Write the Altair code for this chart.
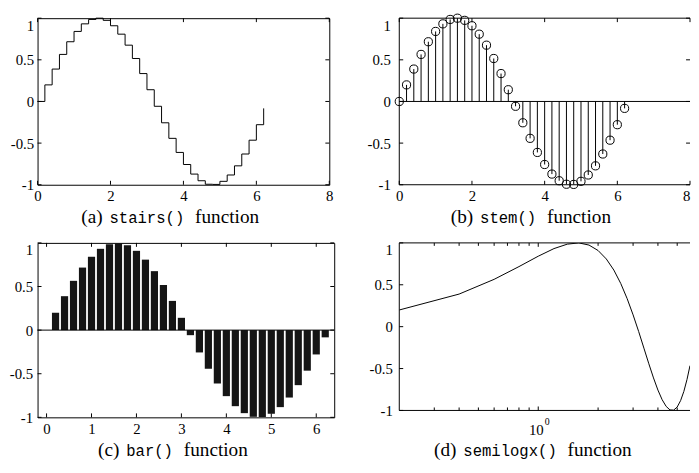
import altair as alt
import pandas as pd

# ---- data ----
X = [0.0, 0.2, 0.4, 0.6, 0.8, 1.0, 1.2, 1.4, 1.6, 1.8, 2.0, 2.2, 2.4, 2.6, 2.8, 3.0,
     3.2, 3.4, 3.6, 3.8, 4.0, 4.2, 4.4, 4.6, 4.8, 5.0, 5.2, 5.4, 5.6, 5.8, 6.0, 6.2]
Y = [0.0, 0.199, 0.389, 0.565, 0.717, 0.841, 0.932, 0.985, 1.000, 0.974, 0.909, 0.808,
     0.676, 0.516, 0.335, 0.141, -0.058, -0.256, -0.443, -0.612, -0.757, -0.872, -0.952,
     -0.994, -0.996, -0.959, -0.883, -0.773, -0.631, -0.465, -0.279, -0.083]

XTICKS_AB = [0, 2, 4, 6, 8]
XTICKS_C = [0, 1, 2, 3, 4, 5, 6]
YTICKS = [-1, -0.5, 0, 0.5, 1]
XTICKS_D_MAJOR = [1]
XTICKS_D_MINOR = [0.3, 0.4, 0.5, 0.6, 0.7, 0.8, 0.9, 2, 3, 4, 5]
XLIM_D = [0.2, 5.8]   # visible part of the semilogx axis (the figure is cropped on the right)

df = pd.DataFrame({"x": X, "y": Y})

SERIF = "Liberation Serif"
MONO = "Liberation Mono"
TL = 4  # tick length (inward)
LBL = 15  # tick label size

YLABEL = "datum.value < 0 ? '-' + format(-datum.value, '~g') : format(datum.value, '~g')"
YBASE = {"condition": {"test": "datum.value == 1", "value": "top"}, "value": "middle"}


def rule(**enc):
    return alt.Chart(pd.DataFrame({"k": [0]})).mark_rule(color="black", strokeWidth=1).encode(**enc)


def frame3(W, H):
    # top, bottom, left edges (right edge is cropped away in the reference)
    return [
        rule(x=alt.value(0), x2=alt.value(W), y=alt.value(0)),
        rule(x=alt.value(0), x2=alt.value(W), y=alt.value(H)),
        rule(x=alt.value(0), y=alt.value(0), y2=alt.value(H)),
    ]


def tick_layers(xs, xax, ys, yax, xvals, yvals, W, H, tl=TL, right=True):
    xd = alt.Chart(pd.DataFrame({"v": xvals})).mark_rule(color="black", strokeWidth=1)
    yd = alt.Chart(pd.DataFrame({"v": yvals})).mark_rule(color="black", strokeWidth=1)
    xe = alt.X("v:Q", scale=xs, axis=xax, title=None)
    ye = alt.Y("v:Q", scale=ys, axis=yax, title=None)
    out = [
        xd.encode(x=xe, y=alt.value(H), y2=alt.value(H - tl)),
        xd.encode(x=xe, y=alt.value(0), y2=alt.value(tl)),
        yd.encode(y=ye, x=alt.value(0), x2=alt.value(tl)),
    ]
    if right:
        out.append(yd.encode(y=ye, x=alt.value(W), x2=alt.value(W - tl)))
    return out


def caption(label, func, H, x_right, dy, mono=15.8, serif=19.5):
    d = alt.Chart(pd.DataFrame({"a": [label], "f": [func], "w": ["function"]}))
    xm = x_right + 7
    xf = xm + len(func) * 0.6 * mono + 11
    y = alt.value(H + dy)
    return [
        d.mark_text(align="right", baseline="alphabetic", font=SERIF, fontSize=serif,
                    color="black").encode(text="a:N", x=alt.value(x_right), y=y),
        d.mark_text(align="left", baseline="alphabetic", font=MONO, fontSize=mono,
                    color="black").encode(text="f:N", x=alt.value(xm), y=y),
        d.mark_text(align="left", baseline="alphabetic", font=SERIF, fontSize=serif,
                    color="black").encode(text="w:N", x=alt.value(xf), y=y),
    ]


def yaxis(pad=4):
    return alt.Axis(values=YTICKS, labelExpr=YLABEL, labelPadding=pad, labelBaseline=YBASE,
                    labelOverlap=False, labelFlush=False)


def xaxis(vals, last_right=None):
    kw = {}
    if last_right is not None:
        kw["labelAlign"] = {"condition": {"test": f"datum.value == {last_right}", "value": "right"},
                            "value": "center"}
    return alt.Axis(values=vals, format="~g", labelPadding=4, labelOverlap=False,
                    labelFlush=False, labelBaseline="top", **kw)


ys = alt.Scale(domain=[-1, 1], nice=False, zero=False)
NOFRAME = alt.ViewBackground(stroke="transparent")

# ---- (a) stairs ----
WA, HA = 296, 169
xs_a = alt.Scale(domain=[0, 8], nice=False, zero=False)
xa_ax, ya_ax = xaxis(XTICKS_AB), yaxis(4)
a_line = alt.Chart(df).mark_line(interpolate="step-after", color="black", strokeWidth=1).encode(
    x=alt.X("x:Q", scale=xs_a, axis=xa_ax, title=None),
    y=alt.Y("y:Q", scale=ys, axis=ya_ax, title=None))
panel_a = alt.layer(a_line, *tick_layers(xs_a, xa_ax, ys, ya_ax, XTICKS_AB, YTICKS, WA, HA),
                    *caption("(a)", "stairs()", HA, 66, 38.4)).properties(width=WA, height=HA)

# ---- (b) stem ----
WB, HB = 295, 169
xs_b = alt.Scale(domain=[0, 8], nice=False, zero=False)
xb_ax, yb_ax = xaxis(XTICKS_AB, last_right=8), yaxis(9)
b_base = alt.Chart(pd.DataFrame({"v": [0]})).mark_rule(color="black", strokeWidth=1).encode(
    y=alt.Y("v:Q", scale=ys, axis=yb_ax, title=None), x=alt.value(0), x2=alt.value(WB))
b_stem = alt.Chart(df).transform_calculate(z="0").mark_rule(color="black", strokeWidth=1).encode(
    x=alt.X("x:Q", scale=xs_b, axis=xb_ax, title=None),
    y=alt.Y("y:Q", scale=ys, axis=yb_ax, title=None), y2="z:Q")
b_pts = alt.Chart(df).mark_point(
    shape="circle", filled=False, color="black", size=69, strokeWidth=1, opacity=1).encode(
    x=alt.X("x:Q", scale=xs_b, axis=xb_ax, title=None),
    y=alt.Y("y:Q", scale=ys, axis=yb_ax, title=None))
panel_b = alt.layer(b_base, b_stem, *frame3(WB, HB), b_pts,
                    *tick_layers(xs_b, xb_ax, ys, yb_ax, XTICKS_AB, YTICKS, WB, HB),
                    *caption("(b)", "stem()", HB, 75, 38.4)).properties(
    width=WB, height=HB, view=NOFRAME)

# ---- (c) bar ----
WC, HC = 301, 177
xs_c = alt.Scale(domain=[-0.2, 6.4], nice=False, zero=False)
xc_ax, yc_ax = xaxis(XTICKS_C), yaxis(5)
c_bars = alt.Chart(df).transform_calculate(
    x0="datum.x - 0.08", x1="datum.x + 0.08", z="0").mark_rect(color="#151515").encode(
    x=alt.X("x0:Q", scale=xs_c, axis=xc_ax, title=None), x2="x1:Q",
    y=alt.Y("y:Q", scale=ys, axis=yc_ax, title=None), y2="z:Q")
c_base = alt.Chart(pd.DataFrame({"v": [0]})).mark_rule(color="black", strokeWidth=1).encode(
    y=alt.Y("v:Q", scale=ys, axis=yc_ax, title=None), x=alt.value(0), x2=alt.value(WC))
panel_c = alt.layer(c_bars, c_base,
                    *tick_layers(xs_c, xc_ax, ys, yc_ax, XTICKS_C, YTICKS, WC, HC),
                    *caption("(c)", "bar()", HC, 83, 39)).properties(width=WC, height=HC)

# ---- (d) semilogx ----
WD, HD = 295, 170
xs_d = alt.Scale(type="log", domain=XLIM_D, nice=False)
xd_ax = alt.Axis(values=XTICKS_D_MAJOR, labels=False)
yd_ax = yaxis(7)
d_line = alt.Chart(df).transform_filter(
    f"datum.x > 0 && datum.x <= {XLIM_D[1]}").mark_line(
    color="black", strokeWidth=1, clip=True).encode(
    x=alt.X("x:Q", scale=xs_d, axis=xd_ax, title=None),
    y=alt.Y("y:Q", scale=ys, axis=yd_ax, title=None))
d_minor = alt.Chart(pd.DataFrame({"v": XTICKS_D_MINOR})).mark_rule(color="black", strokeWidth=1)
d_minor_layers = [
    d_minor.encode(x=alt.X("v:Q", scale=xs_d, axis=xd_ax, title=None),
                   y=alt.value(HD), y2=alt.value(HD - 3)),
    d_minor.encode(x=alt.X("v:Q", scale=xs_d, axis=xd_ax, title=None),
                   y=alt.value(0), y2=alt.value(3)),
]
d_lab = alt.Chart(pd.DataFrame({"v": XTICKS_D_MAJOR, "t": ["10"], "e": ["0"]}))
d_labels = [
    d_lab.mark_text(font=SERIF, fontSize=15, color="black", align="center",
                    baseline="alphabetic", dx=-2).encode(
        x=alt.X("v:Q", scale=xs_d, axis=xd_ax, title=None), y=alt.value(HD + 25), text="t:N"),
    d_lab.mark_text(font=SERIF, fontSize=10, color="black", align="center",
                    baseline="alphabetic", dx=9, dy=-10).encode(
        x=alt.X("v:Q", scale=xs_d, axis=xd_ax, title=None), y=alt.value(HD + 25), text="e:N"),
]
panel_d = alt.layer(d_line, *d_minor_layers, *frame3(WD, HD),
                    *tick_layers(xs_d, xd_ax, ys, yd_ax, XTICKS_D_MAJOR, YTICKS, WD, HD,
                                 right=False),
                    *d_labels,
                    *caption("(d)", "semilogx()", HD, 58, 46)).properties(
    width=WD, height=HD, view=NOFRAME)

chart = alt.concat(panel_a, panel_b, panel_c, panel_d, columns=2, bounds="flush",
                   spacing={"row": 59, "column": 66}).properties(
    padding={"left": 0, "top": 0, "right": 0, "bottom": 0},
    background="white",
).configure_view(stroke="black", strokeWidth=1).configure_axis(
    labelFont=SERIF, labelFontSize=LBL, labelColor="black",
    domain=False, ticks=False, grid=False,
)

chart.save("out.html", embed_options={"renderer": "svg", "actions": False})
